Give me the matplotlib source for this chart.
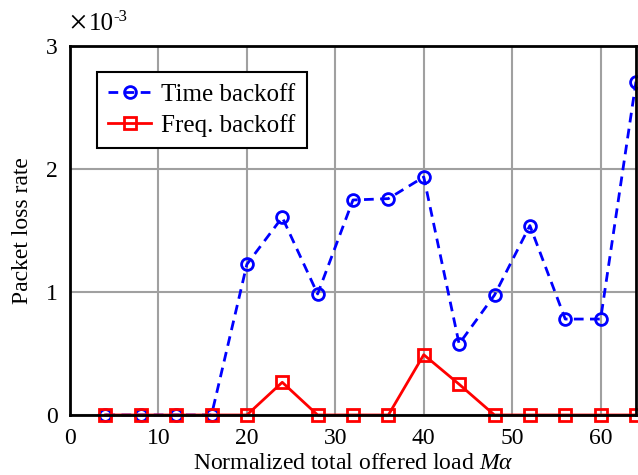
import matplotlib
matplotlib.use("Agg")
import matplotlib.pyplot as plt

plt.rcParams['font.family'] = ['Liberation Serif', 'DejaVu Serif']
plt.rcParams['mathtext.fontset'] = 'custom'
plt.rcParams['mathtext.rm'] = 'Liberation Serif'
plt.rcParams['mathtext.it'] = 'Liberation Serif:italic'

load = [4, 8, 12, 16, 20, 24, 28, 32, 36, 40, 44, 48, 52, 56, 60, 64]
time_backoff = [0, 0, 0, 0, 1.225, 1.607, 0.984, 1.748, 1.759, 1.935, 0.578,
                0.975, 1.54, 0.78, 0.78, 2.71]
freq_backoff = [0, 0, 0, 0, 0, 0.266, 0, 0, 0, 0.49, 0.25, 0, 0, 0, 0, 0]
scale = 1e-3
x_ticks = [0, 10, 20, 30, 40, 50, 60]
y_ticks = [0, 1, 2, 3]

fig = plt.figure(figsize=(6.38, 4.75), dpi=100)
ax = fig.add_axes([70/638, 60/475, 566/638, 369/475])

ax.plot(load, [v * scale for v in time_backoff], linestyle=(0, (3.5, 2.3)), color='#0000ff',
        linewidth=2, marker='o', markersize=8.5, markerfacecolor='none',
        markeredgewidth=2, label='Time backoff', zorder=3, clip_on=False)
ax.plot(load, [v * scale for v in freq_backoff], linestyle='-', color='#ff0000',
        linewidth=2, marker='s', markersize=8.5, markerfacecolor='none',
        markeredgewidth=2, label='Freq. backoff', zorder=3, clip_on=False)

ax.set_xlim(0, 64)
ax.set_ylim(0, 3 * scale)
ax.set_xticks(x_ticks)
ax.set_xticklabels([str(t) for t in x_ticks])
ax.set_yticks([t * scale for t in y_ticks])
ax.set_yticklabels([str(t) for t in y_ticks])
ax.tick_params(axis='both', length=0, labelsize=17)
ax.tick_params(axis='x', pad=9)
ax.tick_params(axis='y', pad=9)
ax.grid(True, color='#a0a0a0', linewidth=1.5)
ax.set_axisbelow(True)
for s in ax.spines.values():
    s.set_linewidth(2)
    s.set_color('black')
    s.set_zorder(4)

ax.set_xlabel(r'Normalized total offered load $M\alpha$', fontsize=17, labelpad=3)
ax.set_ylabel('Packet loss rate', fontsize=17, labelpad=9)

fig.text(68/638, 1 - 24/475, '\u00d7', fontsize=24, ha='left', va='center')
fig.text(89/638, 1 - 24/475, '10', fontsize=18, ha='left', va='center')
fig.text(113/638, 1 - 17/475, '-3', fontsize=12, ha='left', va='center')

leg = ax.legend(loc='upper left', bbox_to_anchor=(27/566, 1 - 26/369), borderaxespad=0,
                fontsize=18, frameon=True, fancybox=False, handlelength=1.7,
                handletextpad=0.42, borderpad=0.45, labelspacing=0.32)
leg.get_frame().set_edgecolor('black')
leg.get_frame().set_linewidth(1.5)
leg.get_frame().set_alpha(1)

fig.savefig('out.png', dpi=100)
